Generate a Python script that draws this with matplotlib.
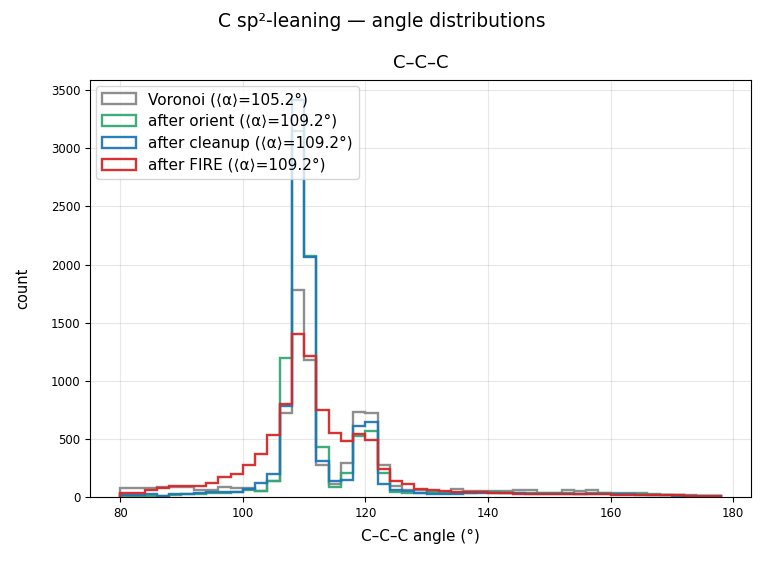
import matplotlib
matplotlib.use("Agg")
import matplotlib.pyplot as plt
import numpy as np

# 2-degree bins, left edges 80..176
bin_edges = np.arange(80, 180, 2)
bin_centers = bin_edges[:-1] + 1

voronoi = [75, 75, 75, 84, 84, 82, 62, 62, 86, 75,
           75, 50, 140, 718, 1785, 1180, 276, 110, 290, 730,
           721, 270, 92, 60, 60, 40, 40, 69, 52, 52,
           52, 46, 55, 55, 37, 37, 55, 47, 55, 34,
           34, 34, 34, 26, 17, 17, 17, 9, 9]
orient = [5, 5, 10, 10, 15, 20, 25, 30, 35, 40,
          55, 46, 138, 1195, 3150, 2075, 425, 84, 204, 520,
          563, 204, 45, 32, 37, 40, 32, 32, 32, 40,
          40, 35, 35, 32, 30, 30, 30, 28, 30, 30,
          28, 25, 22, 18, 15, 12, 8, 5, 3]
cleanup = [15, 15, 20, 10, 25, 25, 35, 40, 40, 40,
           66, 118, 198, 778, 3420, 2066, 310, 132, 147, 606,
           644, 112, 60, 46, 37, 23, 23, 23, 32, 32,
           32, 30, 30, 28, 28, 28, 28, 26, 26, 24,
           20, 20, 15, 12, 12, 10, 8, 5, 3]
fire = [37, 37, 55, 75, 89, 89, 89, 118, 170, 198,
        270, 371, 534, 802, 1405, 1210, 744, 549, 477, 543,
        486, 239, 138, 109, 69, 60, 46, 40, 40, 40,
        32, 30, 28, 26, 26, 24, 22, 22, 20, 20,
        18, 17, 17, 17, 15, 12, 10, 8, 6]

series = [
    (voronoi, "Voronoi (⟨α⟩=105.2°)", "#888888"),
    (orient, "after orient (⟨α⟩=109.2°)", "#34a877"),
    (cleanup, "after cleanup (⟨α⟩=109.2°)", "#1f77b4"),
    (fire, "after FIRE (⟨α⟩=109.2°)", "#d62728"),
]

fig, ax = plt.subplots(figsize=(7.64, 5.62), dpi=100)
fig.subplots_adjust(left=0.118, right=0.983, top=0.858, bottom=0.116)

for counts, label, color in series:
    ax.hist(bin_centers, bins=bin_edges, weights=counts, histtype="step",
            color=color, linewidth=1.7, alpha=0.95, label=label)

ax.grid(True, alpha=0.3)
ax.set_axisbelow(True)
ax.tick_params(labelsize=8.5)
ax.set_xlabel("C–C–C angle (°)", fontsize=11, labelpad=7)
ax.set_ylabel("count", fontsize=10.5, labelpad=15)
ax.set_title("C–C–C", fontsize=13, pad=8.5)
fig.suptitle("C sp²-leaning — angle distributions", fontsize=13.4, y=0.978)
ax.legend(loc="upper left", fontsize=11, borderaxespad=0.4,
          handlelength=2.2, labelspacing=0.45)

fig.savefig("out.png", dpi=100)
